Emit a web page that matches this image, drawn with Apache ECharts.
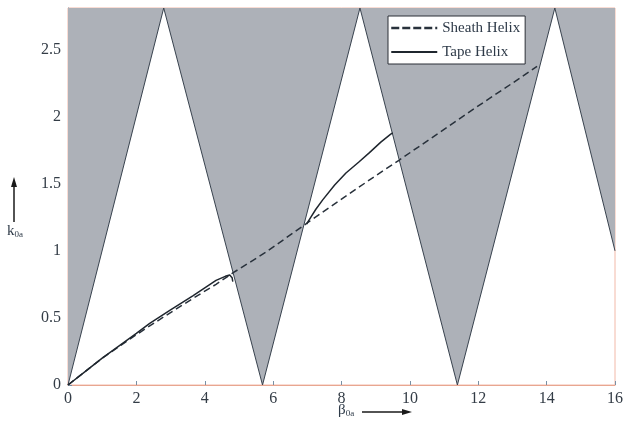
<!DOCTYPE html>
<html>
<head>
<meta charset="utf-8">
<script src="https://cdn.jsdelivr.net/npm/echarts@6/dist/echarts.min.js"></script>
<style>html,body{margin:0;padding:0;background:#fff}#c{width:626px;height:429px}</style>
</head>
<body>
<div id="c"></div>
<script>
// ---- data ----
const xMin = 0, xMax = 16, xStep = 2;
const yMin = 0, yMax = 2.81, yStep = 0.5;
// forbidden-region boundary (light lines); grey fill lies above it
const boundary = [[0,0],[2.80,2.81],[5.69,0],[8.54,2.81],[11.39,0],[14.24,2.81],[16,1.0]];
const sheathHelix = [[0,0],[0.5,0.1],[1,0.2],[2,0.375],[2.39,0.44],[3,0.54],[4,0.70],[4.33,0.75],[4.82,0.835],[5.79,0.99],[7.01,1.21],[8,1.385],[9,1.56],[9.68,1.675],[11,1.905],[12,2.08],[13,2.25],[13.72,2.375]];
const tapeHelixA = [[0,0],[0.5,0.1],[1,0.2],[2,0.385],[2.39,0.46],[3,0.56],[3.65,0.665],[4.33,0.78],[4.6,0.81],[4.73,0.82],[4.8,0.80],[4.82,0.77]];
const tapeHelixB = [[6.98,1.2],[7.1,1.25],[7.25,1.31],[7.45,1.38],[7.8,1.49],[8.13,1.58],[8.5,1.66],[8.81,1.73],[9.15,1.81],[9.44,1.87],[9.5,1.88]];
const seriesNames = ['Sheath Helix','Tape Helix'];

const serif = 'Liberation Serif';
const chart = echarts.init(document.getElementById('c'), null, {renderer:'canvas'});
chart.setOption({
  animation:false,
  backgroundColor:'#fff',
  grid:{left:68, top:8, width:550, height:377, show:true, borderColor:'#f2b9a8', borderWidth:1, backgroundColor:'#fff'},
  xAxis:{type:'value', min:xMin, max:xMax, interval:xStep,
    axisLine:{show:true, onZero:false, lineStyle:{color:'#e8a690', width:1}},
    axisTick:{show:true, inside:true, length:4, lineStyle:{color:'#7890a4'}},
    splitLine:{show:false},
    axisLabel:{color:'#333c46', fontFamily:serif, fontSize:16, margin:6}},
  yAxis:{type:'value', min:yMin, max:yMax, interval:yStep,
    axisLine:{show:true, lineStyle:{color:'#7890a4', width:1}},
    axisTick:{show:true, inside:true, length:4, lineStyle:{color:'#7890a4'}},
    splitLine:{show:false},
    axisLabel:{color:'#333c46', fontFamily:serif, fontSize:16, margin:7, showMaxLabel:false}},
  legend:{orient:'vertical', left:388, top:16, itemWidth:46, itemHeight:14, itemGap:8,
    padding:[4,5,4,2], borderColor:'#2a2f36', borderWidth:1, backgroundColor:'#fff',
    itemStyle:{opacity:0},
    textStyle:{fontFamily:serif, fontSize:15, color:'#2e3a48', lineHeight:16},
    data:[{name:seriesNames[0], itemStyle:{opacity:0}, lineStyle:{width:2.5, type:[8,3]}},
          {name:seriesNames[1], itemStyle:{opacity:0}, lineStyle:{width:2.2}}]},
  series:[
    {type:'line', name:'region', data:boundary, symbol:'none', silent:true, z:1,
      lineStyle:{color:'#38424e', width:1},
      areaStyle:{origin:'end', color:'#adb1b8', opacity:1}},
    {type:'line', name:seriesNames[0], data:sheathHelix, symbol:'none', z:3,
      lineStyle:{color:'#28313b', width:1.5, type:[7,4]}},
    {type:'line', name:seriesNames[1], data:tapeHelixA, symbol:'none', z:4,
      lineStyle:{color:'#1f262e', width:1.5}},
    {type:'line', name:seriesNames[1], data:tapeHelixB, symbol:'none', z:4,
      lineStyle:{color:'#1f262e', width:1.5}}
  ],
  graphic:[
    {type:'line', shape:{x1:14, y1:222, x2:14, y2:185}, style:{stroke:'#1a1a1a', lineWidth:1.5}},
    {type:'polygon', shape:{points:[[14,177],[11,187],[17,187]]}, style:{fill:'#1a1a1a'}},
    {type:'text', left:7, top:224, style:{text:'{m|k}{s|0a}', rich:{
      m:{fontFamily:serif, fontSize:15, fill:'#2e3a48', verticalAlign:'bottom', lineHeight:16},
      s:{fontFamily:serif, fontSize:9, fill:'#2e3a48', verticalAlign:'bottom', lineHeight:12}}}},
    {type:'text', left:338, top:403, style:{text:'{m|β}{s|0a}', rich:{
      m:{fontFamily:serif, fontSize:15, fill:'#2e3a48', verticalAlign:'bottom', lineHeight:16},
      s:{fontFamily:serif, fontSize:9, fill:'#2e3a48', verticalAlign:'bottom', lineHeight:12}}}},
    {type:'line', shape:{x1:362, y1:412, x2:404, y2:412}, style:{stroke:'#1a1a1a', lineWidth:1.5}},
    {type:'polygon', shape:{points:[[412,412],[402,409],[402,415]]}, style:{fill:'#1a1a1a'}}
  ]
});
</script>
</body>
</html>
